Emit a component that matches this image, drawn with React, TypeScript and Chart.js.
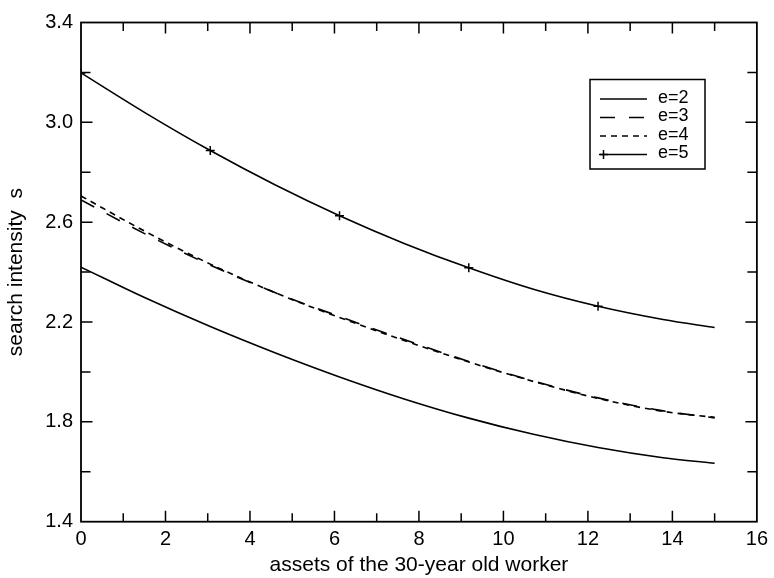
import { useEffect, useRef } from "react";
import { Chart, registerables } from "chart.js";

Chart.register(...registerables);

// Asset grid (x) shared by every series
const assets = [0, 1.53, 3.06, 4.59, 6.12, 7.65, 9.18, 10.71, 12.24, 13.78, 15];
// Search intensity per value of e
const e2 = [2.42, 2.296, 2.182, 2.077, 1.98, 1.892, 1.815, 1.75, 1.697, 1.656, 1.634];
const e3 = [2.689, 2.552, 2.428, 2.318, 2.222, 2.13, 2.042, 1.964, 1.896, 1.844, 1.816];
const e4 = [2.705, 2.562, 2.432, 2.318, 2.218, 2.126, 2.04, 1.962, 1.894, 1.842, 1.818];
const e5 = [3.198, 3.037, 2.887, 2.75, 2.626, 2.515, 2.417, 2.331, 2.263, 2.21, 2.178];
const e5Markers = [true, false, true, false, true, false, true, false, true, false, false];

const seriesLabels = ["e=2", "e=3", "e=4", "e=5"];
const xTicks = [0, 2, 4, 6, 8, 10, 12, 14, 16];
const yTicks = [1.4, 1.8, 2.2, 2.6, 3.0, 3.4];

const FONT = "'Liberation Sans', Arial, Helvetica, sans-serif";

const pts = (ys: number[]) => assets.map((x, i) => ({ x, y: ys[i] }));

const framePlugin = {
  id: "frame",
  afterDatasetsDraw(chart: any) {
    const { ctx, chartArea: a, scales } = chart;
    const xs = scales.x;
    const ys = scales.y;
    ctx.save();
    ctx.strokeStyle = "#000";
    ctx.lineWidth = 1.8;
    ctx.strokeRect(a.left, a.top, a.right - a.left, a.bottom - a.top);

    ctx.lineWidth = 1.5;
    ctx.beginPath();
    const xmin = xTicks[0];
    const xmax = xTicks[xTicks.length - 1];
    for (let v = xmin + 1; v < xmax; v += 1) {
      const px = xs.getPixelForValue(v);
      const L = v % 2 === 0 ? 11 : 8.5;
      ctx.moveTo(px, a.bottom);
      ctx.lineTo(px, a.bottom - L);
      ctx.moveTo(px, a.top);
      ctx.lineTo(px, a.top + L);
    }
    const ymin = yTicks[0];
    const ymax = yTicks[yTicks.length - 1];
    const nY = Math.round((ymax - ymin) / 0.2);
    for (let i = 1; i < nY; i++) {
      const py = ys.getPixelForValue(ymin + 0.2 * i);
      const L = i % 2 === 0 ? 11.5 : 9.5;
      ctx.moveTo(a.left, py);
      ctx.lineTo(a.left + L, py);
      ctx.moveTo(a.right, py);
      ctx.lineTo(a.right - L, py);
    }
    ctx.stroke();

    // Legend box
    const bx = 590, by = 79.5, bw = 115, bh = 89.5;
    ctx.fillStyle = "#fff";
    ctx.fillRect(bx, by, bw, bh);
    ctx.lineWidth = 1.5;
    ctx.strokeRect(bx, by, bw, bh);
    const rowY = [98, 116.5, 135, 153.5];
    chart.data.datasets.forEach((ds: any, i: number) => {
      const y = rowY[i];
      ctx.save();
      ctx.lineWidth = 1.6;
      ctx.strokeStyle = "#000";
      ctx.setLineDash(ds.borderDash || []);
      ctx.beginPath();
      ctx.moveTo(600, y + 1);
      ctx.lineTo(647, y + 1);
      ctx.stroke();
      ctx.restore();
      if (ds.hasMarkers) {
        ctx.beginPath();
        ctx.moveTo(599, y + 1);
        ctx.lineTo(608, y + 1);
        ctx.moveTo(603.5, y - 3.5);
        ctx.lineTo(603.5, y + 5.5);
        ctx.stroke();
      }
      ctx.fillStyle = "#000";
      ctx.font = `18px ${FONT}`;
      ctx.textAlign = "left";
      ctx.textBaseline = "middle";
      ctx.fillText(ds.label, 658, y);
    });
    ctx.restore();
  },
};

export default function App() {
  const ref = useRef<HTMLCanvasElement | null>(null);

  useEffect(() => {
    if (!ref.current) return;
    const common = {
      showLine: true,
      borderColor: "#000",
      backgroundColor: "#000",
      borderWidth: 1.6,
      cubicInterpolationMode: "monotone" as const,
      pointRadius: 0,
      fill: false,
    };
    const chart = new Chart(ref.current, {
      type: "scatter",
      data: {
        datasets: [
          { ...common, label: seriesLabels[0], data: pts(e2) },
          { ...common, label: seriesLabels[1], data: pts(e3), borderDash: [15, 14] },
          { ...common, label: seriesLabels[2], data: pts(e4), borderDash: [6, 5] },
          {
            ...common,
            label: seriesLabels[3],
            data: pts(e5),
            hasMarkers: true,
            pointStyle: "cross",
            pointRadius: e5Markers.map((m) => (m ? 4.5 : 0)),
            pointBorderWidth: 1.5,
            pointBorderColor: "#000",
          } as any,
        ],
      },
      options: {
        animation: false,
        responsive: false,
        devicePixelRatio: 1,
        layout: { padding: { top: 22.5, right: 14.7, left: 0, bottom: 0 } },
        plugins: { legend: { display: false }, tooltip: { enabled: false } },
        scales: {
          x: {
            type: "linear",
            min: xTicks[0],
            max: xTicks[xTicks.length - 1],
            afterFit: (s: any) => {
              s.height = 56.3;
            },
            afterBuildTicks: (s: any) => {
              s.ticks = xTicks.map((v) => ({ value: v }));
            },
            grid: { display: false, drawTicks: false },
            border: { display: false },
            ticks: {
              color: "#000",
              padding: 6,
              font: { family: FONT, size: 20 },
              callback: (v: any) => String(v),
              maxRotation: 0,
              autoSkip: false,
            },
            title: {
              display: true,
              text: "assets of the 30-year old worker",
              color: "#000",
              font: { family: FONT, size: 21 },
              padding: { top: 0, bottom: 0 },
            },
          },
          y: {
            type: "linear",
            min: yTicks[0],
            max: yTicks[yTicks.length - 1],
            afterFit: (s: any) => {
              s.width = 81;
            },
            afterBuildTicks: (s: any) => {
              s.ticks = yTicks.map((v) => ({ value: v }));
            },
            grid: { display: false, drawTicks: false },
            border: { display: false },
            ticks: {
              color: "#000",
              padding: 8,
              font: { family: FONT, size: 20 },
              callback: (v: any) => Number(v).toFixed(1),
              autoSkip: false,
            },
            title: {
              display: true,
              text: "search intensity  s",
              color: "#000",
              font: { family: FONT, size: 21 },
              padding: { top: 4, bottom: 0 },
            },
          },
        },
      },
      plugins: [framePlugin],
    } as any);
    return () => chart.destroy();
  }, []);

  return (
    <div style={{ position: "fixed", left: 0, top: 0, width: 774, height: 578, background: "#fff" }}>
      <canvas ref={ref} width={774} height={578} style={{ display: "block" }} />
    </div>
  );
}
